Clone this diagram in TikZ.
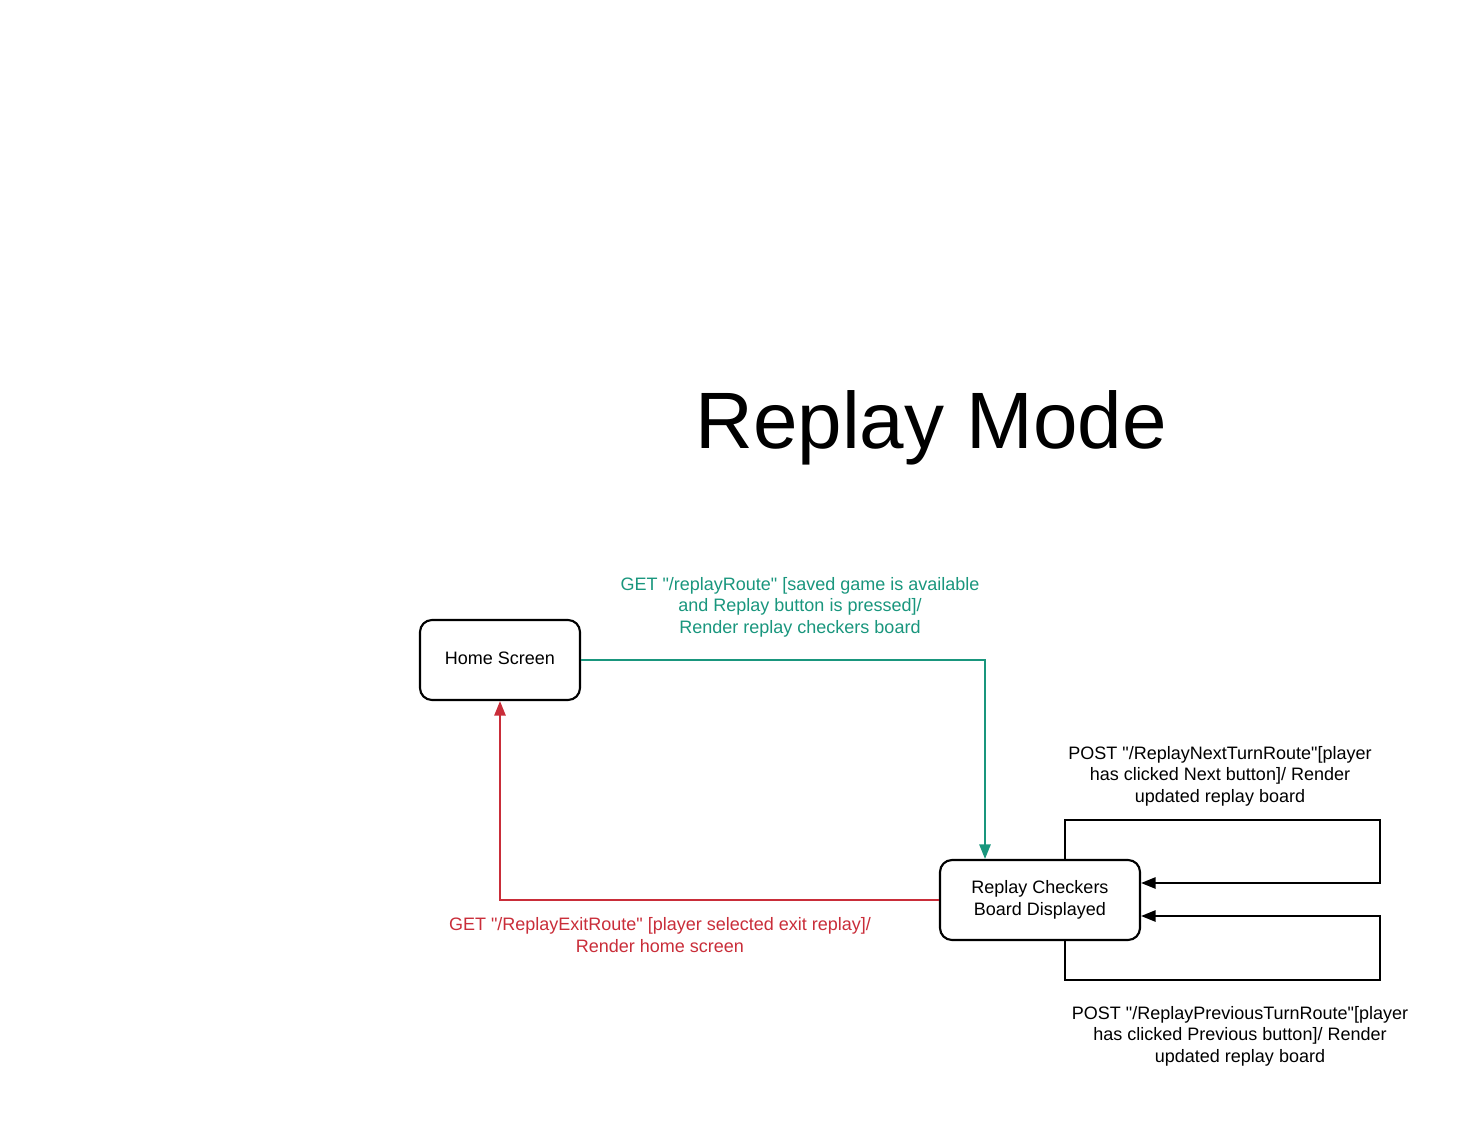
\documentclass[tikz,border=0pt]{standalone}
\usepackage{fontspec}
\setmainfont{Liberation Sans}[Ligatures=TeXOff]
\usetikzlibrary{arrows.meta,calc}
\definecolor{lgreen}{RGB}{25,150,125}
\definecolor{lred}{RGB}{201,45,57}
\tikzset{
  statebox/.style={draw=black,line width=1.6pt,rounded corners=9pt,minimum width=120pt,minimum height=60pt,align=center,font=\fontsize{13.5pt}{16.2pt}\selectfont,fill=white},
  conn/.style={line width=1.5pt,-{Triangle[length=11pt,width=8.5pt]}},
  lbl/.style={align=center,font=\fontsize{13.5pt}{16.2pt}\selectfont,inner sep=0pt}
}
\begin{document}
\begin{tikzpicture}[x=0.75pt,y=-0.75pt]
\useasboundingbox (0,0) rectangle (1460,1138);
\node[font=\fontsize{60pt}{72pt}\selectfont] (title) at (931,428) {Replay Mode};
\node[statebox] (home) at (500,660) {\raisebox{2pt}{Home Screen}};
\node[statebox,minimum width=150pt] (replay) at (1040,900) {Replay Checkers\\Board Displayed};
\coordinate (gcorner) at (985,660);
\draw[conn,draw=lgreen] (home.east) -- (gcorner) -- ($(replay.north)+(-55,0)$);
\draw[conn,draw=lred] (replay.west) -| (home.south);
\coordinate (tr) at (1380,820);
\coordinate (br) at (1380,980);
\draw[conn,draw=black] ($(replay.north)+(25,0)$) |- (tr) |- ($(replay.east)+(0,-17)$);
\draw[conn,draw=black] ($(replay.south)+(25,0)$) |- (br) |- ($(replay.east)+(0,16)$);
\node[lbl,text=lgreen] (lg) at (800,607) {GET "/replayRoute" [saved game is available\\and Replay button is pressed]/\\Render replay checkers board};
\node[lbl,text=lred] (lr) at (660,935) {GET "/ReplayExitRoute" [player selected exit replay]/\\Render home screen};
\node[lbl] (ln) at (1220,776) {POST "/ReplayNextTurnRoute"[player\\has clicked Next button]/ Render\\updated replay board};
\node[lbl] (lp) at (1240,1036) {POST "/ReplayPreviousTurnRoute"[player\\has clicked Previous button]/ Render\\updated replay board};
\end{tikzpicture}
\end{document}
